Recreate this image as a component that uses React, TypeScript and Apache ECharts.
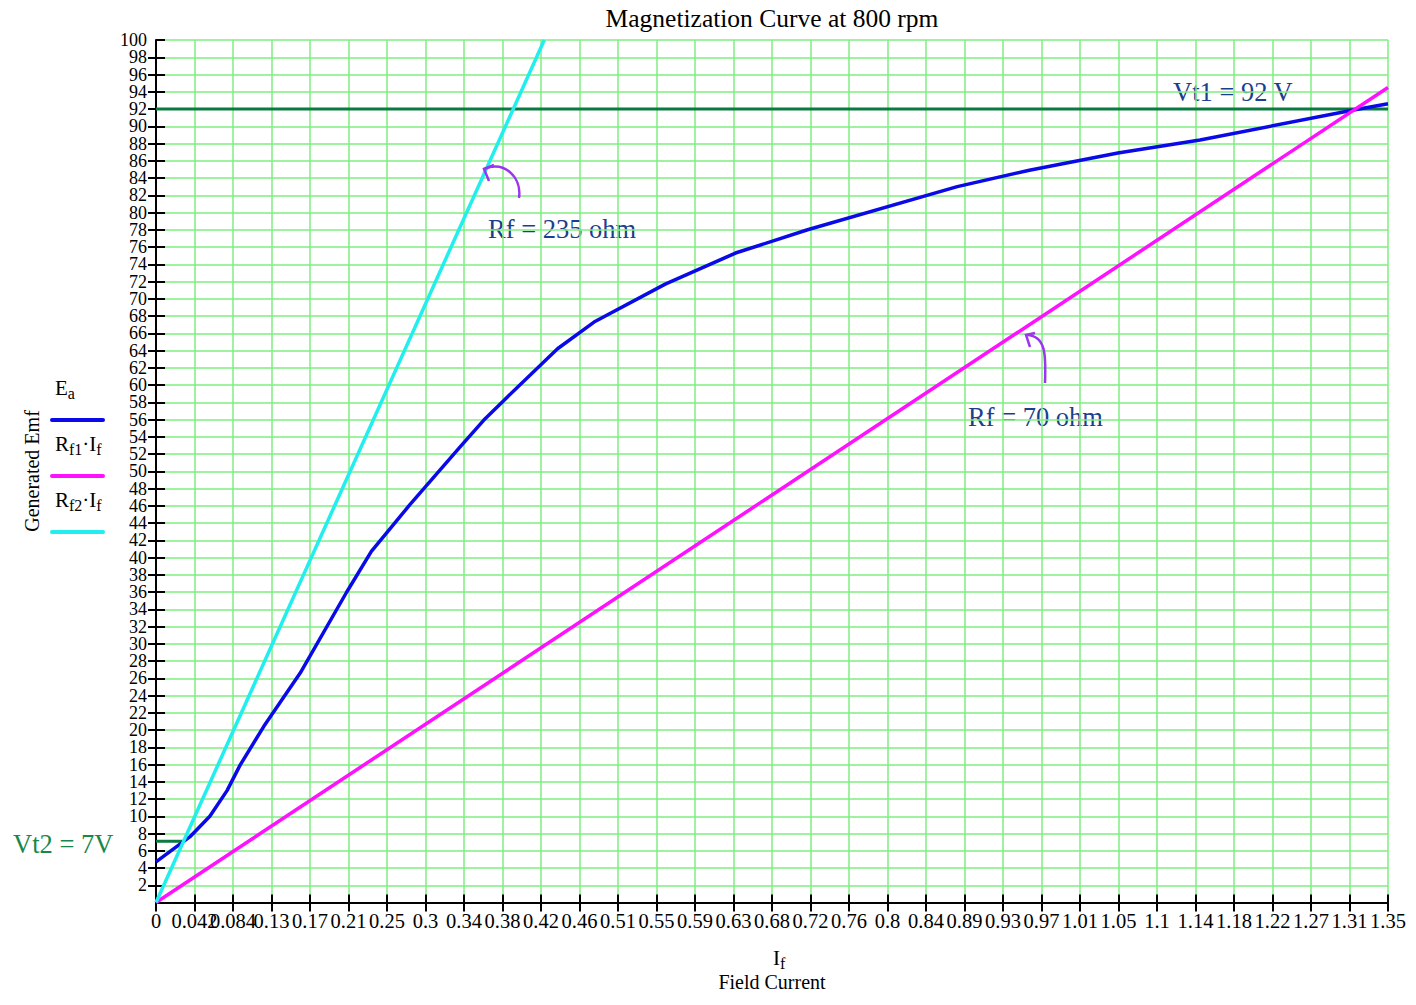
import React, { useEffect, useRef } from "react";
import * as echarts from "echarts";

const X_MAX = 1.35;
const X_STEP = X_MAX / 32;
const xTickLabels = ["0","0.042","0.084","0.13","0.17","0.21","0.25","0.3","0.34","0.38","0.42","0.46","0.51","0.55","0.59","0.63","0.68","0.72","0.76","0.8","0.84","0.89","0.93","0.97","1.01","1.05","1.1","1.14","1.18","1.22","1.27","1.31","1.35"];

// Ea magnetization curve
const eaCurrent = [0, 0.037, 0.059, 0.078, 0.092, 0.118, 0.158, 0.209, 0.236, 0.278, 0.333, 0.359, 0.382, 0.44, 0.48, 0.558, 0.635, 0.714, 0.878, 0.957, 1.054, 1.144, 1.308, 1.35];
const eaEmf = [4.7, 7.6, 10, 13, 15.9, 20.4, 26.6, 36, 40.7, 46.1, 52.8, 55.9, 58.3, 64.2, 67.3, 71.7, 75.3, 78, 83, 84.9, 86.9, 88.4, 91.8, 92.6];

// Field resistance lines
const rf1Current = [0, 1.35];
const rf1Emf = [0, 94.5];
const rf2Current = [0, 0.4255];
const rf2Emf = [0, 100];

// Terminal voltage lines
const vt1Current = [0, 1.35];
const vt1Emf = [92, 92];
const vt2Current = [0, 0.0302];
const vt2Emf = [7.1, 7.1];

const zip = (xs: number[], ys: number[]) => xs.map((x, i) => [x, ys[i]]);

const SERIF = "'Liberation Serif', 'DejaVu Serif', serif";
const GRID_GREEN = "#7fee7f";
const BLUE = "#0a0ae8";
const MAGENTA = "#ff10ff";
const CYAN = "#22eeee";
const DARK_GREEN = "#0b7a40";
const NOTE_BLUE = "#1b3f8f";
const PURPLE = "#9b35f0";

export default function App() {
  const ref = useRef<HTMLDivElement>(null);
  useEffect(() => {
    if (!ref.current) return;
    const chart = echarts.init(ref.current, undefined, { renderer: "svg" });
    const xBase = {
      type: "value" as const,
      min: 0,
      max: X_MAX,
      interval: X_STEP,
    };
    const yBase = {
      type: "value" as const,
      min: 0,
      max: 100,
      interval: 2,
    };
    const yLabelStyle = {
      fontFamily: SERIF,
      fontSize: 18,
      color: "#000",
      lineHeight: 16,
      margin: 9,
      interval: 0,
      hideOverlap: false,
    };
    const legendRich = {
      n: { fontFamily: SERIF, fontSize: 21, color: "#000" },
      s: { fontFamily: SERIF, fontSize: 16, color: "#000", padding: [10, 0, 0, 0] },
    };
    const option: any = {
      animation: false,
      backgroundColor: "#fff",
      grid: { left: 156, right: 28, top: 40, bottom: 102.5, containLabel: false },
      xAxis: [
        {
          ...xBase,
          position: "bottom",
          axisLine: { onZero: false, lineStyle: { color: "#000", width: 2 } },
          axisTick: { show: true, inside: false, length: 9, lineStyle: { color: "#000", width: 2 } },
          axisLabel: {
            fontFamily: SERIF,
            fontSize: 20.5,
            color: "#000",
            lineHeight: 18,
            margin: 9,
            showMinLabel: true,
            showMaxLabel: true,
            hideOverlap: false,
            interval: 0,
            formatter: (v: number) => xTickLabels[Math.round(v / X_STEP)] ?? "",
          },
          splitLine: { show: true, lineStyle: { color: GRID_GREEN, width: 1.5 } },
        },
        {
          ...xBase,
          position: "bottom",
          axisLine: { show: false, onZero: false },
          axisTick: { show: true, inside: true, length: 8, lineStyle: { color: "#000", width: 2 } },
          axisLabel: { show: false },
          splitLine: { show: false },
        },
      ],
      yAxis: [
        {
          ...yBase,
          position: "left",
          axisLine: { show: true, onZero: false, lineStyle: { color: "#000", width: 2 } },
          axisTick: { show: true, inside: false, length: 8, lineStyle: { color: "#000", width: 2 } },
          axisLabel: {
            ...yLabelStyle,
            showMinLabel: false,
            showMaxLabel: false,
            formatter: (v: number) => (v === 0 || v === 100 ? "" : String(v)),
          },
          splitLine: { show: true, lineStyle: { color: GRID_GREEN, width: 1.5 } },
        },
        {
          ...yBase,
          position: "left",
          axisLine: { show: false, onZero: false },
          axisTick: { show: true, inside: true, length: 9, lineStyle: { color: "#000", width: 2 } },
          axisLabel: {
            ...yLabelStyle,
            showMinLabel: false,
            showMaxLabel: true,
            formatter: (v: number) => (v === 100 ? String(v) : ""),
          },
          splitLine: { show: false },
        },
      ],
      series: [
        {
          name: "Vt1",
          type: "line",
          data: zip(vt1Current, vt1Emf),
          showSymbol: false,
          lineStyle: { color: DARK_GREEN, width: 3 },
          z: 2,
        },
        {
          name: "Vt2",
          type: "line",
          data: zip(vt2Current, vt2Emf),
          showSymbol: false,
          lineStyle: { color: DARK_GREEN, width: 3 },
          z: 2,
        },
        {
          name: "Ea",
          type: "line",
          data: zip(eaCurrent, eaEmf),
          showSymbol: false,
          lineStyle: { color: BLUE, width: 3.5 },
          z: 3,
        },
        {
          name: "Rf1If",
          type: "line",
          data: zip(rf1Current, rf1Emf),
          showSymbol: false,
          lineStyle: { color: MAGENTA, width: 3.5 },
          z: 4,
        },
        {
          name: "Rf2If",
          type: "line",
          data: zip(rf2Current, rf2Emf),
          showSymbol: false,
          lineStyle: { color: CYAN, width: 3.5 },
          z: 4,
        },
      ],
      graphic: [
        {
          type: "text",
          x: 772,
          y: 18,
          style: { text: "Magnetization Curve at 800 rpm", fontFamily: SERIF, fontSize: 25.5, fill: "#000", textAlign: "center", textVerticalAlign: "middle" },
        },
        {
          type: "text",
          x: 32,
          y: 471,
          rotation: Math.PI / 2,
          style: { text: "Generated Emf", fontFamily: SERIF, fontSize: 20, fill: "#000", textAlign: "center", textVerticalAlign: "middle" },
        },
        {
          type: "text",
          x: 773,
          y: 945,
          style: { text: "{n|I}{s|f}", rich: legendRich, textVerticalAlign: "top" },
        },
        {
          type: "text",
          x: 772,
          y: 982,
          style: { text: "Field Current", fontFamily: SERIF, fontSize: 20, fill: "#000", textAlign: "center", textVerticalAlign: "middle" },
        },
        // legend
        {
          type: "text",
          x: 55,
          y: 375,
          style: { text: "{n|E}{s|a}", rich: legendRich, textVerticalAlign: "top" },
        },
        { type: "line", shape: { x1: 52, y1: 420, x2: 103, y2: 420 }, style: { stroke: BLUE, lineWidth: 4, lineCap: "round" } },
        {
          type: "text",
          x: 55,
          y: 431,
          style: { text: "{n|R}{s|f1}{n|·I}{s|f}", rich: legendRich, textVerticalAlign: "top" },
        },
        { type: "line", shape: { x1: 52, y1: 476, x2: 103, y2: 476 }, style: { stroke: MAGENTA, lineWidth: 4, lineCap: "round" } },
        {
          type: "text",
          x: 55,
          y: 487,
          style: { text: "{n|R}{s|f2}{n|·I}{s|f}", rich: legendRich, textVerticalAlign: "top" },
        },
        { type: "line", shape: { x1: 52, y1: 532, x2: 103, y2: 532 }, style: { stroke: CYAN, lineWidth: 4, lineCap: "round" } },
        // annotations
        {
          type: "text",
          x: 1173,
          y: 92,
          style: { text: "Vt1 = 92 V", fontFamily: SERIF, fontSize: 26.5, fill: NOTE_BLUE, textVerticalAlign: "middle" },
        },
        {
          type: "text",
          x: 488,
          y: 229,
          style: { text: "Rf = 235 ohm", fontFamily: SERIF, fontSize: 26.5, fill: NOTE_BLUE, textVerticalAlign: "middle" },
        },
        {
          type: "text",
          x: 968,
          y: 417,
          style: { text: "Rf = 70 ohm", fontFamily: SERIF, fontSize: 26.5, fill: NOTE_BLUE, textVerticalAlign: "middle" },
        },
        {
          type: "text",
          x: 13,
          y: 844,
          style: { text: "Vt2 = 7V", fontFamily: SERIF, fontSize: 26.5, fill: "#17874a", textVerticalAlign: "middle" },
        },
        // purple hand-drawn arrows
        {
          type: "bezierCurve",
          shape: { x1: 519, y1: 198, cpx1: 522, cpy1: 178, cpx2: 505, cpy2: 160, x2: 484, y2: 169 },
          style: { stroke: PURPLE, lineWidth: 2.5, fill: "none" },
          z: 10,
        },
        {
          type: "polyline",
          shape: { points: [[489, 181], [484, 169], [494, 165]] },
          style: { stroke: PURPLE, lineWidth: 2.5, fill: "none" },
          z: 10,
        },
        {
          type: "bezierCurve",
          shape: { x1: 1045, y1: 383, cpx1: 1046, cpy1: 355, cpx2: 1046, cpy2: 336, x2: 1027, y2: 335 },
          style: { stroke: PURPLE, lineWidth: 2.5, fill: "none" },
          z: 10,
        },
        {
          type: "polyline",
          shape: { points: [[1030, 347], [1026, 335], [1035, 333]] },
          style: { stroke: PURPLE, lineWidth: 2.5, fill: "none" },
          z: 10,
        },
      ],
    };
    chart.setOption(option);
    return () => chart.dispose();
  }, []);
  return (
    <div
      ref={ref}
      style={{ position: "fixed", left: 0, top: 0, width: 1416, height: 1005, background: "#fff" }}
    />
  );
}
